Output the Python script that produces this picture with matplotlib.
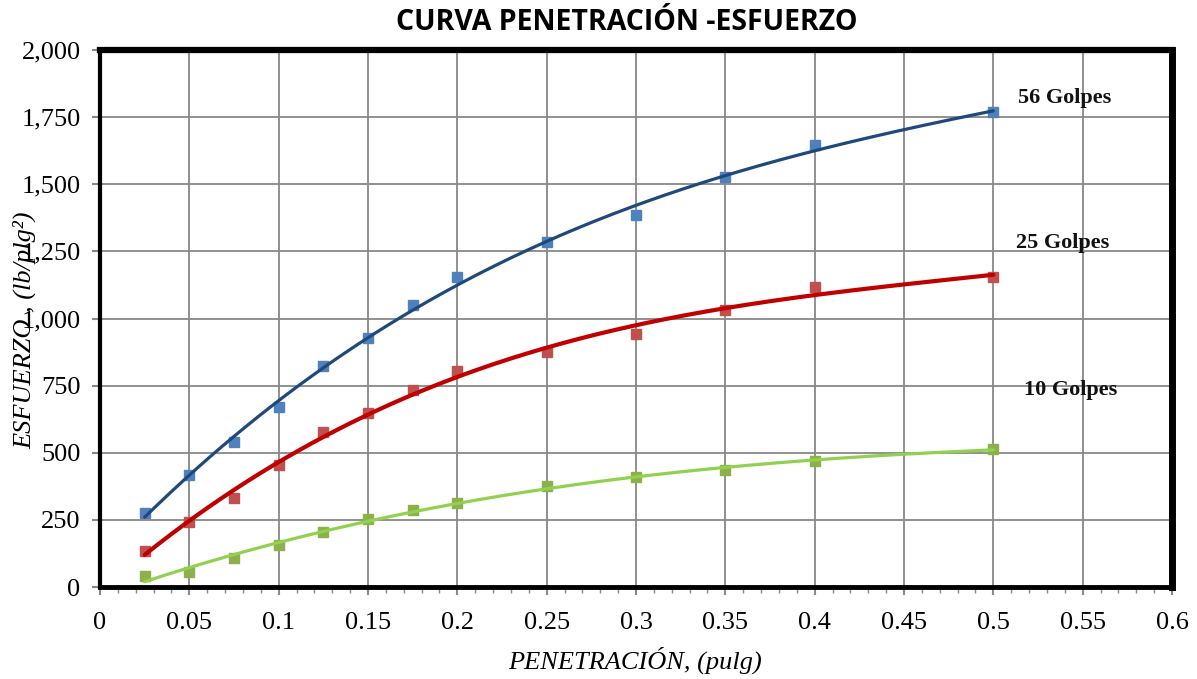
import numpy as np
import matplotlib
matplotlib.use("Agg")
import matplotlib.pyplot as plt
from matplotlib.ticker import MultipleLocator, FuncFormatter

penetracion = [0.025, 0.05, 0.075, 0.1, 0.125, 0.15, 0.175, 0.2, 0.25, 0.3, 0.35, 0.4, 0.5]
golpes_56 = [275, 417, 540, 671, 823, 927, 1050, 1155, 1285, 1385, 1527, 1646, 1770]
golpes_25 = [135, 242, 331, 454, 577, 648, 733, 804, 875, 943, 1032, 1118, 1156]
golpes_10 = [41, 57, 109, 156, 205, 253, 287, 313, 376, 410, 436, 470, 514]
series_labels = ["56 Golpes", "25 Golpes", "10 Golpes"]
label_pos = [(0.54, 1821), (0.539, 1281), (0.543, 734)]
x_ticks = [0, 0.05, 0.1, 0.15, 0.2, 0.25, 0.3, 0.35, 0.4, 0.45, 0.5, 0.55, 0.6]
x_tick_labels = ["0", "0.05", "0.1", "0.15", "0.2", "0.25", "0.3", "0.35", "0.4", "0.45", "0.5", "0.55", "0.6"]

line_colors = ["#1F497D", "#C00000", "#92D050"]
marker_colors = ["#4F81BD", "#C0504D", "#8DB04A"]
line_widths = [2.3, 3.0, 2.3]

fig = plt.figure(figsize=(11.97, 6.79), dpi=100)
ax = fig.add_axes([100/1197, 1 - 587/679, 1072/1197, 537/679])

x = np.array(penetracion)
xs = np.linspace(min(penetracion), max(penetracion), 200)
for ys, lc, mc, lw in zip([golpes_56, golpes_25, golpes_10], line_colors, marker_colors, line_widths):
    ax.plot(x, ys, linestyle="none", marker="s", markersize=7, color=mc, zorder=3)
    coef = np.polyfit(x, ys, 3)
    ax.plot(xs, np.polyval(coef, xs), color=lc, linewidth=lw, zorder=4, solid_capstyle="round")

for lab, (lx, ly) in zip(series_labels, label_pos):
    ax.text(lx, ly, lab, ha="center", va="center", fontsize=16, fontweight="bold",
            family="Liberation Serif", color="#111111", zorder=5)

ax.set_xlim(0, 0.6)
ax.set_ylim(0, 2000)
ax.set_xticks(x_ticks)
ax.set_xticklabels(x_tick_labels)
ax.xaxis.set_minor_locator(MultipleLocator(0.01))
ax.yaxis.set_major_locator(MultipleLocator(250))
ax.yaxis.set_major_formatter(FuncFormatter(lambda v, p: f"{int(v):,}"))

ax.grid(True, which="major", color="#888888", linewidth=1.3, zorder=1)
ax.set_axisbelow(True)

for lbl in ax.get_xticklabels() + ax.get_yticklabels():
    lbl.set_family("Liberation Serif")
    lbl.set_fontsize(19)
ax.tick_params(axis="both", which="major", direction="out", length=6, width=1.5, color="#888888", pad=8)
ax.tick_params(axis="x", which="minor", direction="out", length=4, width=1.0, color="#888888")
ax.tick_params(axis="x", which="major", pad=12)

ax.spines["left"].set_linewidth(3)
ax.spines["bottom"].set_linewidth(3.5)
ax.spines["top"].set_linewidth(4.5)
ax.spines["right"].set_linewidth(5)
for s in ax.spines.values():
    s.set_color("black")
    s.set_zorder(6)

fig.text(0.5 * (392 + 862) / 1197, 1 - 23 / 679, "CURVA PENETRACIÓN -ESFUERZO", ha="center", va="center",
         fontsize=20.5, fontweight="bold", family="Open Sans")
fig.text(635 / 1197, 1 - 660 / 679, "PENETRACIÓN, (pulg)", ha="center", va="center",
         fontsize=19, style="italic", family="Liberation Serif")
fig.text(25 / 1197, 1 - 330 / 679, "ESFUERZO , (lb/plg²)", ha="center", va="center", rotation=90,
         fontsize=19, style="italic", family="Liberation Serif")

fig.savefig("out.png", dpi=100)
